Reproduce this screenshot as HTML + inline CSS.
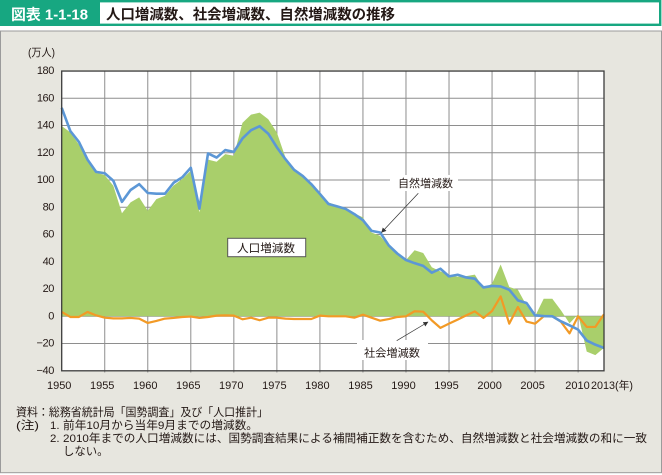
<!DOCTYPE html>
<html><head><meta charset="utf-8">
<style>
html,body{margin:0;padding:0;background:#fff;}
svg{display:block;}
text{font-family:"Liberation Sans","Noto Sans CJK JP",sans-serif;}
</style></head>
<body>
<svg width="662" height="475" viewBox="0 0 662 475" xmlns="http://www.w3.org/2000/svg">
<defs>
<marker id="ar" viewBox="0 0 6 6" refX="5.5" refY="3" markerWidth="5" markerHeight="5" orient="auto" markerUnits="userSpaceOnUse">
<path d="M0,0 L6,3 L0,6 z" fill="#333"/>
</marker>
</defs>
<!-- header -->
<rect x="1.2" y="1.2" width="659" height="23.6" fill="#fff" stroke="#17a781" stroke-width="2.4"/>
<rect x="0" y="0" width="100" height="26" fill="#17a781"/>
<text x="11" y="19.5" font-size="15" font-weight="bold" fill="#fff" textLength="77" lengthAdjust="spacingAndGlyphs">図表 1-1-18</text>
<text x="106" y="19.5" font-size="14.5" font-weight="bold" fill="#231815" textLength="289" lengthAdjust="spacingAndGlyphs">人口増減数、社会増減数、自然増減数の推移</text>
<!-- panel -->
<rect x="0.5" y="31" width="661" height="441.7" fill="#e7e6df" stroke="#9b9b9b" stroke-width="1"/>
<!-- plot bg -->
<rect x="61.7" y="71.05" width="542.3" height="299.75" fill="#fff"/>
<!-- gridlines -->
<g stroke="#8e8e8e" stroke-width="1">
<line x1="61.7" x2="604" y1="98.3" y2="98.3"/>
<line x1="61.7" x2="604" y1="125.55" y2="125.55"/>
<line x1="61.7" x2="604" y1="152.8" y2="152.8"/>
<line x1="61.7" x2="604" y1="180.05" y2="180.05"/>
<line x1="61.7" x2="604" y1="207.3" y2="207.3"/>
<line x1="61.7" x2="604" y1="234.55" y2="234.55"/>
<line x1="61.7" x2="604" y1="261.8" y2="261.8"/>
<line x1="61.7" x2="604" y1="289.05" y2="289.05"/>
<line x1="61.7" x2="604" y1="316.3" y2="316.3"/>
<line x1="61.7" x2="604" y1="343.55" y2="343.55"/>
<line y1="71" y2="372.5" x1="104.74" x2="104.74"/>
<line y1="71" y2="372.5" x1="147.77" x2="147.77"/>
<line y1="71" y2="372.5" x1="190.8" x2="190.8"/>
<line y1="71" y2="372.5" x1="233.84" x2="233.84"/>
<line y1="71" y2="372.5" x1="276.88" x2="276.88"/>
<line y1="71" y2="372.5" x1="319.91" x2="319.91"/>
<line y1="71" y2="372.5" x1="362.95" x2="362.95"/>
<line y1="71" y2="372.5" x1="405.98" x2="405.98"/>
<line y1="71" y2="372.5" x1="449.02" x2="449.02"/>
<line y1="71" y2="372.5" x1="492.05" x2="492.05"/>
<line y1="71" y2="372.5" x1="535.09" x2="535.09"/>
<line y1="71" y2="372.5" x1="578.12" x2="578.12"/>
</g>
<!-- data -->
<g transform="matrix(8.607 0 0 -1.3625 61.7 316.3)">
<polygon fill="#a9cf6b" points="0,0 0,139.7 1,135 2,126 3,114 4,105.5 5,103.6 6,95.8 7,75.6 8,83.6 9,87.3 10,77.5 11,86 12,88.5 13,96 14,100.7 15,106.8 16,76.3 17,115 18,113.4 19,119 20,117.8 21,142 22,148 23,149.5 24,144.6 25,134.8 26,116.5 27,108 28,103 29,98 30,91 31,83.6 32,81.2 33,79 34,75.5 35,72.6 36,61.5 37,59 38,51.5 39,45.9 40,41.3 41,48.5 42,46.5 43,36 44,33 45,30.5 46,29 47,29.5 48,30.6 49,20.5 50,24 51,38 52,21.5 53,19.5 54,8 55,0 56,12.9 57,12.9 58,4.4 59,-5.2 60,1.5 61,-25.9 62,-28.5 63,-23.2 63,0"/>
<polyline fill="none" stroke="#f29a26" stroke-width="2.2" vector-effect="non-scaling-stroke" stroke-linejoin="round" points="0,3.2 1,-0.5 2,-0.5 3,3.2 4,0.7 5,-1 6,-1.5 7,-1.5 8,-1.2 9,-1.7 10,-4.9 11,-3.4 12,-1.7 13,-1.2 14,-0.5 15,-0.2 16,-1.2 17,-0.5 18,0.5 19,0.7 20,0.5 21,-2.2 22,-1 23,-2.9 24,-1 25,-1 26,-1.7 27,-2 28,-2 29,-2 30,0.5 31,0 32,0 33,0 34,-1 35,1.2 36,-1 37,-3.2 38,-2 39,-0.5 40,0 41,3.7 42,3.4 43,-3 44,-8.5 45,-5.4 46,-2.4 47,0.7 48,3.6 49,-1.2 50,3.9 51,14.6 52,-5.4 53,6.8 54,-3.9 55,-5.4 56,0 57,0 58,-4 59,-12.5 60,0 61,-7.8 62,-7.8 63,1.4"/>
<polyline fill="none" stroke="#5c97d6" stroke-width="2.6" vector-effect="non-scaling-stroke" stroke-linejoin="round" points="0,153 1,136 2,128 3,115 4,106 5,105 6,99.5 7,84 8,92.7 9,97 10,90.5 11,90 12,90 13,98 14,102 15,109 16,79 17,119.5 18,116.5 19,122 20,120.7 21,130.5 22,136.6 23,139.5 24,134 25,124 26,115.3 27,107.5 28,103 29,97 30,89.8 31,82.4 32,80.7 33,78.8 34,75 35,70.5 36,62.7 37,61.5 38,52 39,46 40,41.3 41,39 42,37 43,32 44,34.9 45,29.3 46,30.5 47,28.5 48,27.6 49,21.2 50,22.3 51,21.9 52,19.5 53,11.7 54,9.8 55,0.7 56,0.2 57,0 58,-3.7 59,-6.6 60,-9.8 61,-17.8 62,-20.8 63,-23.2"/>
</g>
<!-- frame -->
<rect x="61.7" y="71.05" width="542.3" height="299.75" fill="none" stroke="#3c3c3c" stroke-width="1.3"/>
<!-- annotations -->
<rect x="227.7" y="238.3" width="78" height="18.4" fill="#fff" stroke="#555" stroke-width="1"/>
<text x="237" y="251.8" font-size="11.5" fill="#231815" textLength="58" lengthAdjust="spacingAndGlyphs">人口増減数</text>
<rect x="390" y="175" width="68" height="16" fill="#fff"/>
<text x="398" y="187" font-size="11" fill="#231815" textLength="55" lengthAdjust="spacingAndGlyphs">自然増減数</text>
<line x1="418.3" y1="193.3" x2="381.5" y2="232.5" stroke="#333" stroke-width="0.7" marker-end="url(#ar)"/>
<rect x="357" y="340" width="71" height="20" fill="#fff"/>
<text x="364" y="356.3" font-size="11" fill="#231815" textLength="56" lengthAdjust="spacingAndGlyphs">社会増減数</text>
<line x1="396.7" y1="340.7" x2="428" y2="322" stroke="#333" stroke-width="0.7" marker-end="url(#ar)"/>
<!-- y labels -->
<g font-size="11" fill="#231815" text-anchor="end" letter-spacing="-0.4">
<text x="54" y="74">180</text>
<text x="54" y="101.3">160</text>
<text x="54" y="128.5">140</text>
<text x="54" y="155.8">120</text>
<text x="54" y="183">100</text>
<text x="54" y="210.3">80</text>
<text x="54" y="237.5">60</text>
<text x="54" y="264.8">40</text>
<text x="54" y="292">20</text>
<text x="54" y="319.3">0</text>
<text x="54" y="346.5">−20</text>
<text x="54" y="373.8">−40</text>
</g>
<text x="28" y="56" font-size="11" fill="#231815" textLength="27" lengthAdjust="spacingAndGlyphs">(万人)</text>
<!-- x labels -->
<g font-size="11" fill="#231815" text-anchor="middle">
<text x="59.2" y="389">1950</text>
<text x="102.2" y="389">1955</text>
<text x="145.3" y="389">1960</text>
<text x="188.3" y="389">1965</text>
<text x="231.3" y="389">1970</text>
<text x="274.4" y="389">1975</text>
<text x="317.4" y="389">1980</text>
<text x="360.5" y="389">1985</text>
<text x="403.5" y="389">1990</text>
<text x="446.5" y="389">1995</text>
<text x="489.6" y="389">2000</text>
<text x="532.6" y="389">2005</text>
<text x="577.5" y="389">2010</text>
</g>
<text x="591" y="389" font-size="11" fill="#231815" textLength="42" lengthAdjust="spacingAndGlyphs">2013(年)</text>
<!-- footnotes -->
<g font-size="11.4" fill="#231815">
<text x="16" y="416" textLength="252" lengthAdjust="spacingAndGlyphs">資料：総務省統計局「国勢調査」及び「人口推計」</text>
<text x="16" y="429" textLength="23" lengthAdjust="spacingAndGlyphs">(注)</text>
<text x="50" y="429">1.</text>
<text x="63" y="429" textLength="195" lengthAdjust="spacingAndGlyphs">前年10月から当年9月までの増減数。</text>
<text x="50" y="442">2.</text>
<text x="63" y="442" textLength="584" lengthAdjust="spacingAndGlyphs">2010年までの人口増減数には、国勢調査結果による補間補正数を含むため、自然増減数と社会増減数の和に一致</text>
<text x="63" y="455">しない。</text>
</g>
</svg>
</body></html>
